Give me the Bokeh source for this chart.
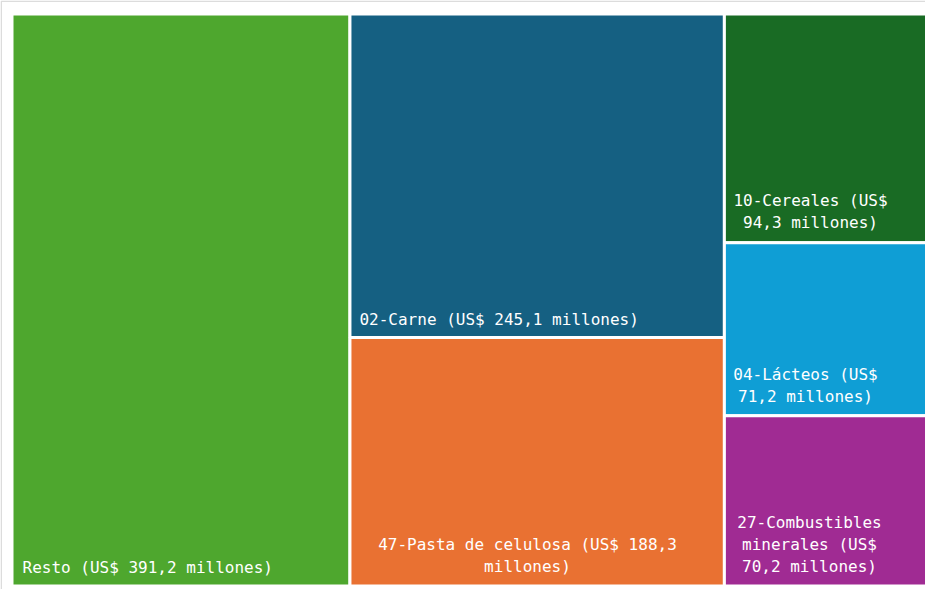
from bokeh.plotting import figure
from bokeh.models import Range1d
from bokeh.embed import file_html
from bokeh.resources import INLINE
from bokeh.core.properties import value

# ---- data ----
categories = ["Resto", "02-Carne", "47-Pasta de celulosa", "10-Cereales",
              "04-Lácteos", "27-Combustibles minerales"]
values = [391.2, 245.1, 188.3, 94.3, 71.2, 70.2]
column_of = [0, 1, 1, 2, 2, 2]
labels = ["Resto (US$ 391,2 millones)",
          "02-Carne (US$ 245,1 millones)",
          "47-Pasta de celulosa (US$ 188,3\nmillones)",
          "10-Cereales (US$\n94,3 millones)",
          "04-Lácteos (US$\n71,2 millones)",
          "27-Combustibles\nminerales (US$\n70,2 millones)"]
colors = ["#4EA72E", "#156082", "#E97132", "#196B24", "#0F9ED5", "#A02B93"]

# ---- layout (pixels) ----
W, H = 925, 589
TM_LEFT, TM_TOP, TM_W, TM_H = 11.5, 13.5, 916.0, 572.0

total = sum(values)
kx = total / TM_W          # data units per px (x)
ky = 1.0 / TM_H            # data units per px (y)

# slice-and-dice treemap: columns by width, stacked cells within column
ncol = max(column_of) + 1
col_sum = [sum(v for v, c in zip(values, column_of) if c == i) for i in range(ncol)]
col_left = [sum(col_sum[:i]) for i in range(ncol)]
left, right, top, bottom = [], [], [], []
used = [0.0] * ncol
for v, c in zip(values, column_of):
    left.append(col_left[c])
    right.append(col_left[c] + col_sum[c])
    t = 1.0 - used[c] / col_sum[c]
    used[c] += v
    b = 1.0 - used[c] / col_sum[c]
    top.append(t)
    bottom.append(b)

p = figure(width=W, height=H, output_backend="svg", toolbar_location=None,
           x_range=Range1d(-TM_LEFT * kx, (W - TM_LEFT) * kx),
           y_range=Range1d(-(H - TM_TOP - TM_H) * ky, 1 + TM_TOP * ky),
           min_border=0, min_border_left=0, min_border_right=0,
           min_border_top=0, min_border_bottom=0)
p.axis.visible = False
p.grid.visible = False
p.outline_line_color = None
p.background_fill_color = "white"
p.border_fill_color = "white"

# outer light border of the chart area
p.quad(left=[(-TM_LEFT + 0.75) * kx], right=[(W + 20) * kx],
       top=[1 + (TM_TOP - 0.75) * ky], bottom=[-(H + 20) * ky],
       fill_color=None, line_color="#dcdcdc", line_width=1.5)

p.quad(left=left, right=right, top=top, bottom=bottom,
       fill_color=colors, line_color="white", line_width=3)

# label styles: (align, horizontal offset px, distance of text bottom above cell bottom px)
styles = [("left", 10.5, 9.5), ("left", 9.5, 8.0), ("center", -9.7, 10.0),
          ("center", -15.7, 11.0), ("center", -20.7, 10.0), ("center", -16.7, 10.0)]

for i, lab in enumerate(labels):
    align, dx, dy = styles[i]
    if align == "left":
        x = left[i] + dx * kx
    else:
        x = (left[i] + right[i]) / 2 + dx * kx
    y = bottom[i] + dy * ky
    p.text(x=[x], y=[y], text=[lab], text_align=align, text_baseline="bottom",
           text_color="white", text_font=value("DejaVu Sans Mono"),
           text_font_size="16px", text_line_height=1.15)

open("out.html", "w").write(file_html(p, INLINE))
